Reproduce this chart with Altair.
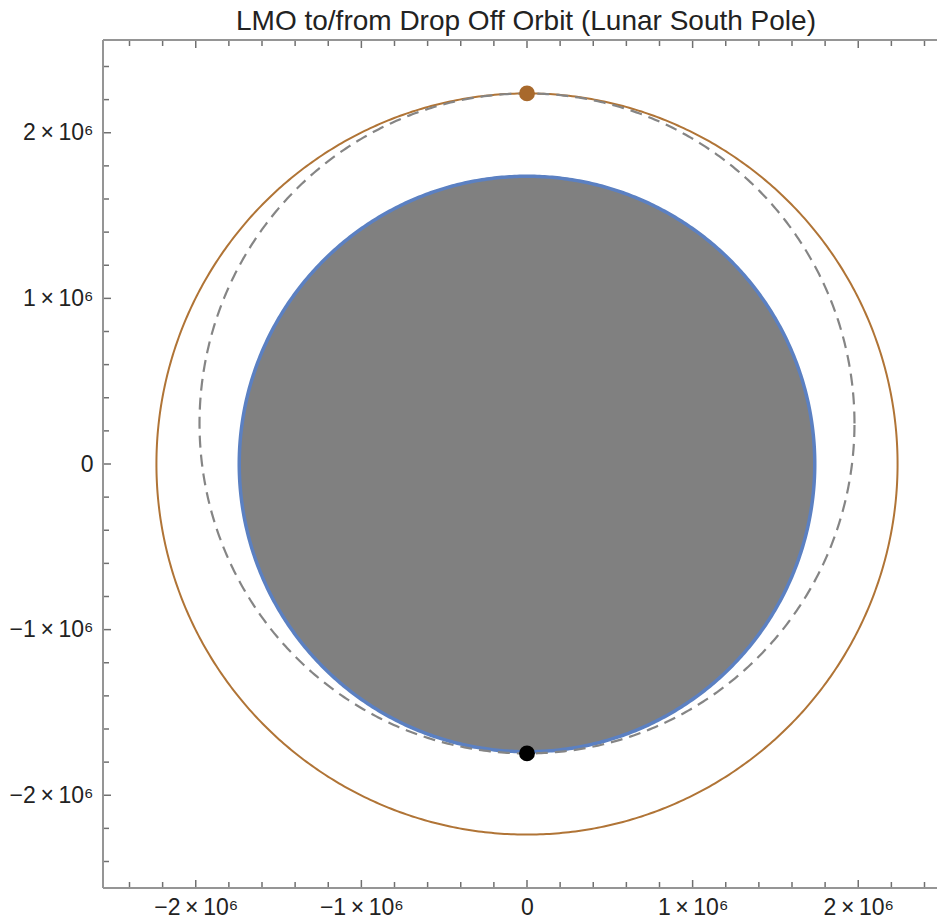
import altair as alt
import numpy as np
import pandas as pd

# ---------------- data ----------------
title_text = "LMO to/from Drop Off Orbit (Lunar South Pole)"
moon_radius = 1737400.0            # lunar surface (grey disk, blue rim)
orbit_radius = 2237400.0           # brown circular orbit
ellipse_periapsis = 1747400.0      # dashed transfer ellipse, low point (south)
ellipse_apoapsis = 2237400.0       # dashed transfer ellipse, high point (north)
dot_x = [0.0, 0.0]
dot_y = [2237400.0, -1747400.0]
dot_color = ["#A8692C", "#000000"]
major_ticks = [-2e6, -1e6, 0.0, 1e6, 2e6]
minor_ticks = [-2.4e6, -2.2e6, -1.8e6, -1.6e6, -1.4e6, -1.2e6, -0.8e6, -0.6e6,
               -0.4e6, -0.2e6, 0.2e6, 0.4e6, 0.6e6, 0.8e6, 1.2e6, 1.4e6,
               1.6e6, 1.8e6, 2.2e6, 2.4e6]
x_domain = [-2.56e6, 2.4755e6]
y_domain = [-2.56e6, 2.56e6]

# ---------------- geometry tables ----------------
t = np.linspace(0, 2 * np.pi, 721)
orbit_df = pd.DataFrame({"x": orbit_radius * np.cos(t),
                         "y": orbit_radius * np.sin(t),
                         "i": np.arange(len(t))})
a = (ellipse_periapsis + ellipse_apoapsis) / 2
c = (ellipse_apoapsis - ellipse_periapsis) / 2
b = np.sqrt(ellipse_periapsis * ellipse_apoapsis)
ell_df = pd.DataFrame({"x": b * np.cos(t), "y": c + a * np.sin(t),
                       "i": np.arange(len(t))})
rim_df = pd.DataFrame({"x": moon_radius * np.cos(t),
                       "y": moon_radius * np.sin(t),
                       "i": np.arange(len(t))})
th = np.linspace(0, np.pi, 721)
moon_df = pd.DataFrame({"x": moon_radius * np.cos(th),
                        "y": moon_radius * np.sin(th),
                        "y2": -moon_radius * np.sin(th)})
dots_df = pd.DataFrame({"x": dot_x, "y": dot_y, "c": dot_color})
major_df = pd.DataFrame({"v": major_ticks})
minor_df = pd.DataFrame({"v": minor_ticks})

W, H = 834, 848
FONT = "Liberation Sans"
xs = alt.Scale(domain=x_domain, nice=False, zero=False)
ys = alt.Scale(domain=y_domain, nice=False, zero=False)
label_expr = ("datum.value == 0 ? '0' : replace(format(datum.value/1e6, 'd'), '-', '\u2212')"
              " + '\u2009\u00d7\u200910\u2076'")
ax_x = alt.Axis(values=major_ticks, labelExpr=label_expr, ticks=False, domain=False,
                grid=False, title=None, labelFont=FONT, labelFontSize=23,
                labelColor="#222222", labelPadding=8, labelFlush=False,
                labelOverlap=False)
ax_y = alt.Axis(values=major_ticks, labelExpr=label_expr, ticks=False, domain=False,
                grid=False, title=None, labelFont=FONT, labelFontSize=23,
                labelColor="#222222", labelPadding=10, labelFlush=False,
                labelOverlap=False)

X = lambda f="x": alt.X(f"{f}:Q", scale=xs, axis=ax_x)
Y = lambda f="y": alt.Y(f"{f}:Q", scale=ys, axis=ax_y)

orbit = alt.Chart(orbit_df).mark_line(color="#B07436", strokeWidth=2).encode(
    x=X(), y=Y(), order="i:Q")
moon = alt.Chart(moon_df).mark_area(color="#808080", opacity=1).encode(
    x=X(), y=Y(), y2="y2:Q")
rim = alt.Chart(rim_df).mark_line(color="#5B80C2", strokeWidth=3.5).encode(
    x=X(), y=Y(), order="i:Q")
ellipse = alt.Chart(ell_df).mark_line(color="#858585", strokeWidth=2.2,
                                       strokeDash=[12, 7]).encode(
    x=X(), y=Y(), order="i:Q")
dots = alt.Chart(dots_df).mark_circle(size=250, opacity=1).encode(
    x=X(), y=Y(), color=alt.Color("c:N", scale=None))

TICK = "#707070"
FRAME = "#959595"
RIGHT = W + 14  # the frame's right edge lies just beyond the picture


def hticks(df, L):
    bottom = alt.Chart(df).mark_rule(color=TICK, strokeWidth=1.5).encode(
        x=X("v"), y=alt.value(H), y2=alt.value(H - L))
    top = alt.Chart(df).mark_rule(color=TICK, strokeWidth=1.5).encode(
        x=X("v"), y=alt.value(0), y2=alt.value(L))
    return [bottom, top]


def vticks(df, L):
    left = alt.Chart(df).mark_rule(color=TICK, strokeWidth=1.5).encode(
        y=Y("v"), x=alt.value(0), x2=alt.value(L))
    right = alt.Chart(df).mark_rule(color=TICK, strokeWidth=1.5).encode(
        y=Y("v"), x=alt.value(RIGHT), x2=alt.value(RIGHT - L))
    return [left, right]


frame_df = pd.DataFrame({"k": [0]})
frame = [
    alt.Chart(frame_df).mark_rule(color=FRAME, strokeWidth=2).encode(
        x=alt.value(0), y=alt.value(0), y2=alt.value(H)),
    alt.Chart(frame_df).mark_rule(color=FRAME, strokeWidth=2).encode(
        x=alt.value(0), x2=alt.value(RIGHT), y=alt.value(0)),
    alt.Chart(frame_df).mark_rule(color=FRAME, strokeWidth=2).encode(
        x=alt.value(0), x2=alt.value(RIGHT), y=alt.value(H)),
]

layers = ([orbit, moon, rim, ellipse, dots]
          + hticks(major_df, 8) + hticks(minor_df, 6)
          + vticks(major_df, 8) + vticks(minor_df, 6) + frame)

chart = alt.layer(*layers).properties(
    width=W, height=H,
    title=alt.TitleParams(title_text, font=FONT, fontSize=28, fontWeight="normal",
                          color="#222222", anchor="middle", offset=3, dx=6),
    padding={"left": 95, "top": 32, "right": 0, "bottom": 34},
    autosize=alt.AutoSizeParams(type="none"),
).configure_view(stroke=None).configure(background="white")

chart.save("out.html", embed_options={"renderer": "svg", "actions": False})
